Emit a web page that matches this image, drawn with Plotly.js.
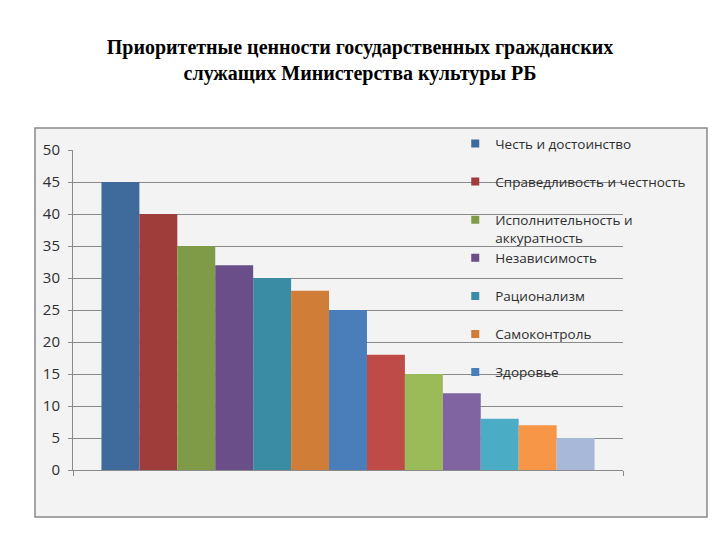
<!DOCTYPE html>
<html>
<head>
<meta charset="utf-8">
<script src="https://cdn.plot.ly/plotly-3.0.1.min.js"></script>
<style>
    body { margin: 0; background: #ffffff; }
    #chart { width: 720px; height: 540px; }
</style>
</head>
<body>
<div id="chart"></div>
<script>
// Values
const category = 'Ценности';
const names = [
    'Честь и достоинство',
    'Справедливость и честность',
    'Исполнительность и<br>аккуратность',
    'Независимость',
    'Рационализм',
    'Самоконтроль',
    'Здоровье',
    'Ряд 8',
    'Ряд 9',
    'Ряд 10',
    'Ряд 11',
    'Ряд 12',
    'Ряд 13'
];
const values = [45, 40, 35, 32, 30, 28, 25, 18, 15, 12, 8, 7, 5];
const colors = [
    '#3e6a9c', '#9e3d3a', '#7f9b47', '#6a4e89', '#3a8ca4', '#d07e37', '#4a7ebb',
    '#be4b48', '#9bbb59', '#8064a2', '#4bacc6', '#f79646', '#a8b8d8'
];
const legendCount = 7; // the original legend only shows the first seven

const gridColor = '#8a8a8a';
const textColor = '#2e2e2e';

const traces = [];

// bars, one series each in a single category (Excel style)
names.forEach((name, i) => {
    traces.push({
        type: 'bar',
        x: [category],
        y: [values[i]],
        name: name,
        marker: { color: colors[i] },
        showlegend: false,
        hoverinfo: 'name+y'
    });
});

// small square legend keys
names.slice(0, legendCount).forEach((name, i) => {
    // single-line names get a blank second line so all entries have equal height
    const label = name.includes('<br>') ? name : name + '<br>&nbsp;';
    traces.push({
        type: 'scatter',
        mode: 'markers',
        x: [category],
        y: [null],
        name: label,
        marker: { color: colors[i], symbol: 'square', size: 8 },
        hoverinfo: 'skip'
    });
});

const layout = {
    width: 720,
    height: 540,
    title: {
        text: 'Приоритетные ценности государственных гражданских<br>служащих Министерства культуры РБ',
        font: { family: 'Liberation Serif', size: 20, color: '#000000', weight: 'bold' },
        xref: 'container',
        x: 0.5,
        yref: 'container',
        y: 0.90,
        yanchor: 'top'
    },
    font: { family: 'Open Sans', color: textColor },
    margin: { t: 150, r: 97, b: 70, l: 73 },
    paper_bgcolor: '#ffffff',
    plot_bgcolor: 'rgba(0,0,0,0)',
    barmode: 'group',
    bargap: 1.5 / 14.5,
    bargroupgap: 0,
    xaxis: {
        type: 'category',
        range: [-0.5, 0.5],
        showticklabels: false,
        showgrid: false,
        showline: true,
        linecolor: gridColor,
        linewidth: 1,
        ticks: 'outside',
        tickson: 'boundaries',
        ticklen: 5,
        tickcolor: gridColor,
        fixedrange: true
    },
    yaxis: {
        range: [0, 50],
        dtick: 5,
        showline: true,
        linecolor: gridColor,
        linewidth: 1,
        showgrid: true,
        gridcolor: gridColor,
        gridwidth: 1,
        zeroline: false,
        ticks: 'outside',
        ticklen: 4,
        tickcolor: gridColor,
        ticklabelstandoff: 5,
        tickfont: { family: 'Open Sans', size: 15, color: textColor },
        fixedrange: true
    },
    legend: {
        x: 0.695,
        xanchor: 'left',
        y: 1.068,
        yanchor: 'top',
        maxheight: 500,
        bgcolor: 'rgba(0,0,0,0)',
        borderwidth: 0,
        valign: 'top',
        font: { family: 'Open Sans', size: 13.5, color: textColor }
    },
    shapes: [{
        type: 'rect',
        xref: 'paper',
        yref: 'paper',
        x0: -0.0691, x1: 1.1527,
        y0: -0.1469, y1: 1.0688,
        layer: 'below',
        fillcolor: '#f3f3f3',
        line: { color: '#8a8a8a', width: 1.5 }
    }],
    showlegend: true
};

const config = {
    responsive: false,
    displayModeBar: false
};

Plotly.newPlot('chart', traces, layout, config);
</script>
</body>
</html>
